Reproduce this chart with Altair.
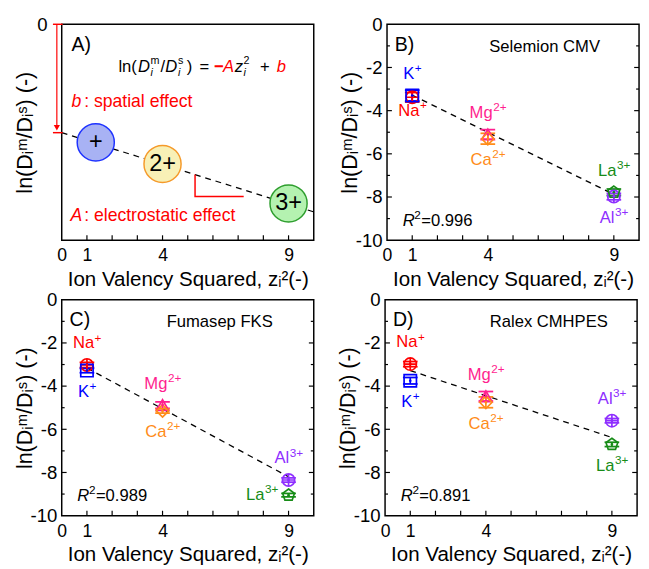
import altair as alt
import pandas as pd

FONT = "Liberation Sans"
W, H = 258, 221

# ---------------- data ----------------
ions = ["Na+", "K+", "Mg2+", "Ca2+", "Al3+", "La3+"]
ion_main = ["Na", "K", "Mg", "Ca", "Al", "La"]
ion_sup = ["+", "+", "2+", "2+", "3+", "3+"]
z_sq = [1, 1, 4, 4, 9, 9]
ion_colors = ["#FF0000", "#0000FF", "#FF1F8F", "#FF8C1A", "#8E2EFF", "#178C17"]

x_tick_labels = [0, 1, 4, 9]
x_ticks = [1, 2, 3, 4, 5, 6, 7, 8, 9]
y_tick_labels = [0, -2, -4, -6, -8, -10]
y_major = [-8, -6, -4, -2]
y_minor = [-9, -7, -5, -3, -1]

# B) Selemion CMV
sel_val = [-3.38, -3.30, -5.10, -5.30, -7.98, -7.78]
sel_err = [0.22, 0.25, 0.22, 0.25, 0.15, 0.15]
sel_side = ["below_near", "above", "above", "below", "below", "above"]
sel_fit = [-3.28, -7.88]

# C) Fumasep FKS
fum_val = [-3.02, -3.28, -4.88, -5.15, -8.35, -9.05]
fum_err = [0.12, 0.10, 0.15, 0.10, 0.10, 0.08]
fum_side = ["above", "below", "above", "below", "above", "left"]
fum_fit = [-3.16, -8.20]

# D) Ralex CMHPES
ral_val = [-2.98, -3.75, -4.47, -4.75, -5.60, -6.70]
ral_err = [0.12, 0.15, 0.22, 0.25, 0.10, 0.10]
ral_side = ["above", "below", "above", "below", "above", "below"]
ral_fit = [-3.28, -6.38]

fit_x = [1, 9]

# A) concept sketch
concept_x = [1.35, 4.0, 9.0]
concept_y = [-5.47, -6.47, -8.30]
concept_text = ["+", "2+", "3+"]
concept_fill = ["#A8B2F4", "#F8F0B6", "#B4F2B0"]
concept_stroke = ["#1E32FF", "#F59A2A", "#2E9E2E"]
concept_b = -5.02
concept_fit_x = [0, 10]
concept_fit_y = [-5.02, -8.69]
slope_x = [5.29, 5.29, 7.22]
slope_y = [-6.96, -7.98, -7.98]

# ---------------- helpers ----------------
CPLUS = "M-1,0A1,1,0,1,1,1,0A1,1,0,1,1,-1,0ZM-1,0L1,0M0,-1L0,1"
PENT = "M0,-1L0.951,-0.309L0.588,0.809L-0.588,0.809L-0.951,-0.309Z"
ion_shapes = [CPLUS, "square", "triangle-up", "diamond", CPLUS, PENT]

# Arial advance widths (per 1000 em) for text layout of superscripts
AW = {"N": 722, "a": 556, "K": 667, "M": 833, "g": 556, "C": 722, "A": 667,
      "l": 222, "L": 556, "2": 556, "3": 556, "+": 584}


def tw(s, size):
    return sum(AW.get(c, 556) for c in s) * size / 1000.0


xscale = alt.Scale(domain=[0, 10], nice=False, zero=False)
yscale = alt.Scale(domain=[-10, 0], nice=False, zero=False)

X_TITLE = "Ion Valency Squared, zᵢ²(-)"
Y_TITLE = "ln(Dᵢᵐ/Dᵢˢ) (-)"


def xaxis():
    return alt.Axis(values=x_tick_labels, labelFontSize=18, labelPadding=7,
                    labelFlush=False, labelOverlap=False, title=X_TITLE,
                    titleFontSize=21, titlePadding=4, titleFontWeight="normal")


def yaxis(values, pad):
    return alt.Axis(values=values, labelExpr="'' + datum.value", labelFontSize=19,
                    labelPadding=pad, labelOverlap=False, minExtent=24, maxExtent=24,
                    title=Y_TITLE, titleFontSize=22, titlePadding=2,
                    titleFontWeight="normal")


def make_enc(yvals, ypad):
    def X(f):
        return alt.X(f + ":Q", scale=xscale, axis=xaxis())

    def Y(f):
        return alt.Y(f + ":Q", scale=yscale, axis=yaxis(yvals, ypad))
    return X, Y


def one():
    return alt.Chart(pd.DataFrame({"a": [0]}))


def ptext(txt, x, y, size=17, color="black", align="left", style="normal", weight="normal"):
    return one().mark_text(text=txt, fontSize=size, color=color, align=align,
                           baseline="middle", fontStyle=style, fontWeight=weight,
                           font=FONT).encode(x=alt.value(x), y=alt.value(y))


def inner_ticks(X, Y, yticks=True):
    layers = []
    xt = pd.DataFrame({"v": x_ticks})
    layers.append(alt.Chart(xt).mark_rule(color="black", strokeWidth=1.2).encode(
        x=X("v"), y=alt.value(H), y2=alt.value(H - 5)))
    if yticks:
        for vals, ln in ((y_major, 5), (y_minor, 3)):
            d = pd.DataFrame({"v": vals})
            layers.append(alt.Chart(d).mark_rule(color="black", strokeWidth=1.2).encode(
                y=Y("v"), x=alt.value(0), x2=alt.value(ln)))
            layers.append(alt.Chart(d).mark_rule(color="black", strokeWidth=1.2).encode(
                y=Y("v"), x=alt.value(W), x2=alt.value(W - ln)))
    return layers


color_enc = alt.Color("ion:N", scale=alt.Scale(domain=ions, range=ion_colors), legend=None)
shape_enc = alt.Shape("ion:N", scale=alt.Scale(domain=ions, range=ion_shapes), legend=None)

LAB = 17
SUP = 12
label_dy = {"above": -22, "below": 22, "below_near": 14, "left": 0}


def data_panel(vals, errs, sides, fit, letter, name, name_x, r2):
    X, Y = make_enc(y_tick_labels, 5)
    df = pd.DataFrame({
        "ion": ions, "x": z_sq, "y": vals,
        "lo": [v - e for v, e in zip(vals, errs)],
        "hi": [v + e for v, e in zip(vals, errs)],
    })
    base = alt.Chart(df)
    fitdf = pd.DataFrame({"x": fit_x, "y": fit})
    layers = []
    layers.append(alt.Chart(fitdf).mark_line(color="black", strokeDash=[6, 5],
                                             strokeWidth=1.3).encode(x=X("x"), y=Y("y")))
    layers.append(base.mark_rule(strokeWidth=1.7, opacity=1).encode(
        x=X("x"), y=Y("lo"), y2="hi:Q", color=color_enc))
    for f in ("lo", "hi"):
        layers.append(base.mark_tick(orient="horizontal", size=15, thickness=1.8,
                                     opacity=1).encode(x=X("x"), y=Y(f), color=color_enc))
    layers.append(base.mark_point(filled=False, size=160, strokeWidth=1.7, opacity=1).encode(
        x=X("x"), y=Y("y"), color=color_enc, shape=shape_enc))
    layers.append(base.mark_point(filled=True, size=7, opacity=1, shape="circle").encode(
        x=X("x"), y=Y("y"), color=color_enc))
    # ion labels with real superscripts
    for ion, main, sup, col, side in zip(ions, ion_main, ion_sup, ion_colors, sides):
        wm = tw(main, LAB)
        ws = tw(sup, SUP)
        dy = label_dy[side]
        if side == "left":
            start = -11 - (wm + ws)
        else:
            start = -(wm + ws) / 2.0
        sub = base.transform_filter(alt.datum.ion == ion)
        layers.append(sub.mark_text(text=main, align="left", baseline="middle", dx=start,
                                    dy=dy, fontSize=LAB, color=col, font=FONT).encode(
            x=X("x"), y=Y("y")))
        layers.append(sub.mark_text(text=sup, align="left", baseline="middle",
                                    dx=start + wm + 0.5, dy=dy - 6, fontSize=SUP,
                                    color=col, font=FONT).encode(x=X("x"), y=Y("y")))
    layers += inner_ticks(X, Y)
    layers.append(ptext(letter, 8, 21, size=20))
    layers.append(ptext(name, name_x, 23, size=17, align="right"))
    layers.append(ptext("R", 16, H - 20, size=17, style="italic"))
    layers.append(ptext("2", 28, H - 26, size=SUP))
    layers.append(ptext("=" + r2, 35, H - 20, size=17))
    return alt.layer(*layers).properties(width=W, height=H)


def concept_panel():
    X, Y = make_enc([0], 15)
    layers = []
    fl = pd.DataFrame({"x": concept_fit_x, "y": concept_fit_y})
    layers.append(alt.Chart(fl).mark_line(color="black", strokeDash=[6, 5],
                                          strokeWidth=1.3).encode(x=X("x"), y=Y("y")))
    cdf = pd.DataFrame({"x": concept_x, "y": concept_y, "t": concept_text})
    layers.append(alt.Chart(cdf).mark_point(shape="circle", filled=True, size=1444,
                                            opacity=1, strokeWidth=1.5).encode(
        x=X("x"), y=Y("y"),
        fill=alt.Fill("t:N", scale=alt.Scale(domain=concept_text, range=concept_fill), legend=None),
        stroke=alt.Stroke("t:N", scale=alt.Scale(domain=concept_text, range=concept_stroke), legend=None)))
    layers.append(alt.Chart(cdf).mark_text(fontSize=24, font=FONT, color="black",
                                           baseline="middle").encode(
        x=X("x"), y=Y("y"), text="t:N"))
    sdf = pd.DataFrame({"x": slope_x, "y": slope_y, "o": [0, 1, 2]})
    layers.append(alt.Chart(sdf).mark_line(color="#FF0000", strokeWidth=1.5).encode(
        x=X("x"), y=Y("y"), order="o:Q"))
    # intercept markers and arrow
    bdf = pd.DataFrame({"v": [0, concept_b]})
    layers.append(alt.Chart(bdf).mark_rule(color="#FF0000", strokeWidth=1.5).encode(
        y=Y("v"), x=alt.value(-9), x2=alt.value(1)))
    adf = pd.DataFrame({"v": [0], "v2": [concept_b + 0.2]})
    layers.append(alt.Chart(adf).mark_rule(color="#FF0000", strokeWidth=1.2).encode(
        y=Y("v"), y2="v2:Q", x=alt.value(-5)))
    tdf = pd.DataFrame({"v": [concept_b]})
    layers.append(alt.Chart(tdf).mark_point(shape="triangle-down", filled=True, size=40,
                                            color="#FF0000", opacity=1, yOffset=-5).encode(
        y=Y("v"), x=alt.value(-5)))
    layers += inner_ticks(X, Y, yticks=False)
    layers.append(ptext("A)", 10, 21, size=20))
    # equation ln(D_i^m / D_i^s) = -A z_i^2 + b
    EY = 44
    layers.append(ptext("ln(", 58, EY, size=17))
    layers.append(ptext("D", 78, EY, size=17, style="italic"))
    layers.append(ptext("m", 91, EY - 6, size=11))
    layers.append(ptext("i", 91, EY + 6, size=11, style="italic"))
    layers.append(ptext("/", 101, EY, size=17))
    layers.append(ptext("D", 106, EY, size=17, style="italic"))
    layers.append(ptext("s", 119, EY - 6, size=11))
    layers.append(ptext("i", 119, EY + 6, size=11, style="italic"))
    layers.append(ptext(")", 128, EY, size=17))
    layers.append(ptext("=", 141, EY, size=17))
    layers.append(ptext("−", 156, EY, size=17, color="#FF0000", weight="bold"))
    layers.append(ptext("A", 165, EY, size=17, color="#FF0000", style="italic"))
    layers.append(ptext("z", 177, EY, size=17, style="italic"))
    layers.append(ptext("2", 186, EY - 6, size=11))
    layers.append(ptext("i", 186, EY + 6, size=11, style="italic"))
    layers.append(ptext("+", 203, EY, size=17))
    layers.append(ptext("b", 220, EY, size=17, color="#FF0000", style="italic"))
    layers.append(ptext("b", 10, 80, size=18, color="#FF0000", style="italic"))
    layers.append(ptext(": spatial effect", 23, 80, size=18, color="#FF0000"))
    layers.append(ptext("A", 9, 196, size=18, color="#FF0000", style="italic"))
    layers.append(ptext(": electrostatic effect", 23, 196, size=18, color="#FF0000"))
    return alt.layer(*layers).properties(width=W, height=H)


pA = concept_panel()
pB = data_panel(sel_val, sel_err, sel_side, sel_fit, "B)", "Selemion CMV", 218, "0.996")
pC = data_panel(fum_val, fum_err, fum_side, fum_fit, "C)", "Fumasep FKS", 216, "0.989")
pD = data_panel(ral_val, ral_err, ral_side, ral_fit, "D)", "Ralex CMHPES", 228, "0.891")

chart = alt.vconcat(
    alt.hconcat(pA, pB, spacing=21),
    alt.hconcat(pC, pD, spacing=21),
    spacing=0,
).properties(
    padding={"left": 5, "top": 0, "right": 0, "bottom": 0}
).configure(font=FONT).configure_view(
    stroke="black", strokeWidth=1.5
).configure_axis(
    grid=False, domain=False, ticks=False, labelColor="black", titleColor="black",
    labelFont=FONT, titleFont=FONT
)

chart.save("out.html", embed_options={"renderer": "svg", "actions": False})
